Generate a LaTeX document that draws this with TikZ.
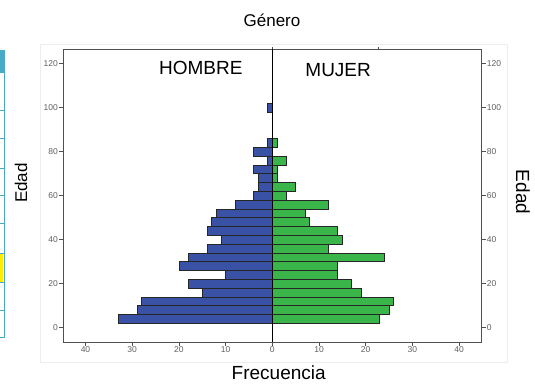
\documentclass[tikz,border=0pt]{standalone}
\usepackage{fontspec}
\setmainfont{Liberation Sans}
\usepackage{xcolor}
\usepackage{tikz}
\definecolor{hombreblue}{RGB}{58, 82, 165}
\definecolor{mujergreen}{RGB}{57, 181, 74}
\definecolor{framegray}{RGB}{80, 80, 80}
\definecolor{ticktext}{RGB}{95, 95, 95}
\definecolor{panelteal}{RGB}{70, 170, 200}
\definecolor{cellyellow}{RGB}{255, 236, 0}

\begin{document}
\begin{tikzpicture}[
    x=1pt, y=1pt,
    hombrebar/.style={draw=black!85, fill=hombreblue, line width=0.7pt},
    mujerbar/.style={draw=black!85, fill=mujergreen, line width=0.7pt},
    axisframe/.style={draw=framegray, line width=0.9pt},
    tickline/.style={draw=framegray, line width=0.6pt},
    ticklab/.style={font=\fontsize{8.5}{9}\selectfont, text=ticktext, inner sep=0.8pt},
    sidetitle/.style={font=\fontsize{19}{21}\selectfont, inner sep=0pt},
    paneline/.style={draw=panelteal, line width=0.9pt}
]
    \useasboundingbox (0,0) rectangle (535,383);

    % piece of the neighbouring table on the left
    \fill[panelteal] (-2,311) rectangle (4.7,333);
    \fill[cellyellow] (-2,101) rectangle (2.5,130);
    \draw[paneline] (-2,46) rectangle (4.7,333);
    \draw[paneline] (-2,311) -- (4.7,311);
    \draw[paneline] (-2,273) -- (4.7,273);
    \draw[paneline] (-2,245) -- (4.7,245);
    \draw[paneline] (-2,215) -- (4.7,215);
    \draw[paneline] (-2,188) -- (4.7,188);
    \draw[paneline] (-2,160) -- (4.7,160);
    \draw[paneline] (-2,130) -- (4.7,130);
    \draw[paneline] (-2,101) -- (4.7,101);
    \draw[paneline] (-2,73) -- (4.7,73);

    % chart area
    \draw[black!7, line width=0.6pt] (40,21) rectangle (507,339);

    % titles
    \node[sidetitle, font=\fontsize{17}{19}\selectfont, anchor=base] (genero) at (272,356.5) {Género};
    \node[sidetitle, anchor=base] (frecuencia) at (278.7,4) {Frecuencia};
    \node[sidetitle, font=\fontsize{17}{19}\selectfont, rotate=90] (edadl) at (21,200) {Edad};
    \node[sidetitle, rotate=-90] (edadr) at (523,191) {Edad};

    \begin{scope}[shift={(272.3,55.3)}, x=4.67pt, y=2.2pt]
        % HOMBRE side
        \draw[hombrebar] (-33,2) rectangle (0,6);
        \draw[hombrebar] (-29,6) rectangle (0,10);
        \draw[hombrebar] (-28,10) rectangle (0,14);
        \draw[hombrebar] (-15,14) rectangle (0,18);
        \draw[hombrebar] (-18,18) rectangle (0,22);
        \draw[hombrebar] (-10,22) rectangle (0,26);
        \draw[hombrebar] (-20,26) rectangle (0,30);
        \draw[hombrebar] (-18,30) rectangle (0,34);
        \draw[hombrebar] (-14,34) rectangle (0,38);
        \draw[hombrebar] (-11,38) rectangle (0,42);
        \draw[hombrebar] (-14,42) rectangle (0,46);
        \draw[hombrebar] (-13,46) rectangle (0,50);
        \draw[hombrebar] (-12,50) rectangle (0,54);
        \draw[hombrebar] (-8,54) rectangle (0,58);
        \draw[hombrebar] (-4,58) rectangle (0,62);
        \draw[hombrebar] (-3,62) rectangle (0,66);
        \draw[hombrebar] (-3,66) rectangle (0,70);
        \draw[hombrebar] (-4,70) rectangle (0,74);
        \draw[hombrebar] (-1,74) rectangle (0,78);
        \draw[hombrebar] (-4,78) rectangle (0,82);
        \draw[hombrebar] (-1,82) rectangle (0,86);
        \draw[hombrebar] (-1,98) rectangle (0,102);

        % MUJER side
        \draw[mujerbar] (0,2) rectangle (23,6);
        \draw[mujerbar] (0,6) rectangle (25,10);
        \draw[mujerbar] (0,10) rectangle (26,14);
        \draw[mujerbar] (0,14) rectangle (19,18);
        \draw[mujerbar] (0,18) rectangle (17,22);
        \draw[mujerbar] (0,22) rectangle (14,26);
        \draw[mujerbar] (0,26) rectangle (14,30);
        \draw[mujerbar] (0,30) rectangle (24,34);
        \draw[mujerbar] (0,34) rectangle (12,38);
        \draw[mujerbar] (0,38) rectangle (15,42);
        \draw[mujerbar] (0,42) rectangle (14,46);
        \draw[mujerbar] (0,46) rectangle (8,50);
        \draw[mujerbar] (0,50) rectangle (7,54);
        \draw[mujerbar] (0,54) rectangle (12,58);
        \draw[mujerbar] (0,58) rectangle (3,62);
        \draw[mujerbar] (0,62) rectangle (5,66);
        \draw[mujerbar] (0,66) rectangle (1,70);
        \draw[mujerbar] (0,70) rectangle (1,74);
        \draw[mujerbar] (0,74) rectangle (3,78);
        \draw[mujerbar] (0,82) rectangle (1,86);

        % frame and middle line
        \draw[axisframe] (-44.8,-6.5) rectangle (44.7,126.7);
        \draw[black, line width=0.9pt] (0,-6.5) -- (0,126.7);
        \draw[tickline] (0,126.7) -- (0,127.4);
        \draw[tickline] (22.8,126.7) -- (22.8,127.6);

        \node[sidetitle, anchor=base] (hombre) at (-15.3,115.2) {HOMBRE};
        \node[sidetitle, anchor=base] (mujer) at (14.1,114.4) {MUJER};

        % Edad ticks, left
        \draw[tickline] (-44.8,0) -- (-45.7,0) node[ticklab, left] (yl0) {0};
        \draw[tickline] (-44.8,20) -- (-45.7,20) node[ticklab, left] (yl20) {20};
        \draw[tickline] (-44.8,40) -- (-45.7,40) node[ticklab, left] (yl40) {40};
        \draw[tickline] (-44.8,60) -- (-45.7,60) node[ticklab, left] (yl60) {60};
        \draw[tickline] (-44.8,80) -- (-45.7,80) node[ticklab, left] (yl80) {80};
        \draw[tickline] (-44.8,100) -- (-45.7,100) node[ticklab, left] (yl100) {100};
        \draw[tickline] (-44.8,120) -- (-45.7,120) node[ticklab, left] (yl120) {120};

        % Edad ticks, right
        \draw[tickline] (44.7,0) -- (45.7,0) node[ticklab, right] (yr0) {0};
        \draw[tickline] (44.7,20) -- (45.7,20) node[ticklab, right] (yr20) {20};
        \draw[tickline] (44.7,40) -- (45.7,40) node[ticklab, right] (yr40) {40};
        \draw[tickline] (44.7,60) -- (45.7,60) node[ticklab, right] (yr60) {60};
        \draw[tickline] (44.7,80) -- (45.7,80) node[ticklab, right] (yr80) {80};
        \draw[tickline] (44.7,100) -- (45.7,100) node[ticklab, right] (yr100) {100};
        \draw[tickline] (44.7,120) -- (45.7,120) node[ticklab, right] (yr120) {120};

        % Frecuencia ticks
        \draw[tickline] (-40,-6.5) -- (-40,-8.3) node[ticklab, below] (xh40) {40};
        \draw[tickline] (-30,-6.5) -- (-30,-8.3) node[ticklab, below] (xh30) {30};
        \draw[tickline] (-20,-6.5) -- (-20,-8.3) node[ticklab, below] (xh20) {20};
        \draw[tickline] (-10,-6.5) -- (-10,-8.3) node[ticklab, below] (xh10) {10};
        \draw[tickline] (0,-6.5) -- (0,-8.3) node[ticklab, below] (x0) {0};
        \draw[tickline] (10,-6.5) -- (10,-8.3) node[ticklab, below] (xm10) {10};
        \draw[tickline] (20,-6.5) -- (20,-8.3) node[ticklab, below] (xm20) {20};
        \draw[tickline] (30,-6.5) -- (30,-8.3) node[ticklab, below] (xm30) {30};
        \draw[tickline] (40,-6.5) -- (40,-8.3) node[ticklab, below] (xm40) {40};
    \end{scope}
\end{tikzpicture}
\end{document}
